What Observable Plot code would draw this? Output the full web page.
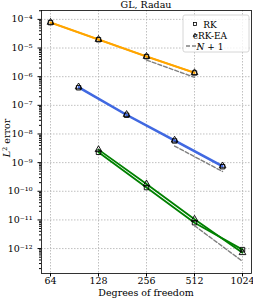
<!DOCTYPE html>
<html><head><meta charset="utf-8">
<script src="https://cdn.jsdelivr.net/npm/d3@7"></script>
<script src="https://cdn.jsdelivr.net/npm/@observablehq/plot@0.6"></script>
<style>body{margin:0;background:#fff}</style></head>
<body><div id="chart"></div>
<script>
// ---- data ----
const dofsA = [64, 128, 256, 512];
const rkA   = [7.7e-5, 1.95e-5, 5.0e-6, 1.35e-6];
const crkA  = [7.9e-5, 2.0e-5, 5.1e-6, 1.38e-6];
const dofsB = [96, 192, 384, 768];
const rkB   = [4.1e-7, 4.5e-8, 5.7e-9, 7.2e-10];
const crkB  = [4.4e-7, 4.8e-8, 6.1e-9, 7.7e-10];
const dofsC = [128, 256, 512, 1024];
const rkC   = [2.29e-9, 1.35e-10, 8.0e-12, 9.2e-13];
const crkC  = [2.84e-9, 1.8e-10, 1.06e-11, 7.2e-13];
const refDofsA = [256, 512], refA = [3.8e-6, 9.5e-7];
const refDofsB = [384, 768], refB = [3.8e-9, 4.9e-10];
const refDofsC = [512, 1024], refC = [6.3e-12, 3.6e-13];
const colors = ["orange", "royalblue", "green"];
const xTicks = [64, 128, 256, 512, 1024];
const yTicks = [1e-4, 1e-5, 1e-6, 1e-7, 1e-8, 1e-9, 1e-10, 1e-11, 1e-12];
const methods = ["RK", "cRK-EA"];
const titleText = "GL, Radau";
const xLabel = "Degrees of freedom";

// ---- build tables ----
const groups = [
  {dofs: dofsA, rk: rkA, crk: crkA, rd: refDofsA, ref: refA, color: colors[0]},
  {dofs: dofsB, rk: rkB, crk: crkB, rd: refDofsB, ref: refB, color: colors[1]},
  {dofs: dofsC, rk: rkC, crk: crkC, rd: refDofsC, ref: refC, color: colors[2]}
];
const rows = [], refRows = [];
groups.forEach((g, gi) => {
  g.dofs.forEach((d, i) => {
    rows.push({key: gi + "RK", method: "RK", dof: d, err: g.rk[i], color: g.color});
  });
  g.dofs.forEach((d, i) => {
    rows.push({key: gi + "cRK", method: "cRK-EA", dof: d, err: g.crk[i], color: g.color});
  });
  g.rd.forEach((d, i) => refRows.push({key: gi, dof: d, err: g.ref[i]}));
});
const yMinor = [];
for (let k = -13; k <= -4; k++) for (let m = 2; m <= 9; m++) {
  const v = m * Math.pow(10, k);
  if (v > Math.pow(10, -12.87) && v < Math.pow(10, -3.69)) yMinor.push(v);
}
const supMap = {"-": "\u207B", "0": "\u2070", "1": "\u00B9", "2": "\u00B2", "3": "\u00B3",
  "4": "\u2074", "5": "\u2075", "6": "\u2076", "7": "\u2077", "8": "\u2078", "9": "\u2079"};
const supFmt = d => "10" + String(Math.round(Math.log10(d))).split("").map(c => supMap[c]).join("");

const W = 253, H = 298, mL = 41, mR = 2, mT = 10, mB = 25;
const font = "DejaVu Serif";
const chart = Plot.plot({
  width: W, height: H, marginLeft: mL, marginRight: mR, marginTop: mT, marginBottom: mB,
  style: {fontFamily: font, fontSize: "9px", background: "white", color: "black"},
  x: {type: "log", base: 2, domain: [Math.pow(2, 5.8125), Math.pow(2, 10.1875)]},
  y: {type: "log", domain: [Math.pow(10, -12.87), Math.pow(10, -3.69)]},
  color: {type: "identity"},
  marks: [
    Plot.gridX(xTicks, {stroke: "#b0b0b0", strokeOpacity: 1, strokeDasharray: "1.5,1.5", strokeWidth: 0.8}),
    Plot.gridY(yTicks, {stroke: "#b0b0b0", strokeOpacity: 1, strokeDasharray: "1.5,1.5", strokeWidth: 0.8}),
    Plot.line(rows, {x: "dof", y: "err", z: "key", stroke: "color", strokeWidth: 1.8}),
    Plot.dot(rows.filter(d => d.method === "RK"), {x: "dof", y: "err", symbol: "square", stroke: "black", fill: "none", r: 2.5, strokeWidth: 0.9}),
    Plot.dot(rows.filter(d => d.method !== "RK"), {x: "dof", y: "err", symbol: "triangle", stroke: "black", fill: "none", r: 2.5, strokeWidth: 0.9}),
    Plot.line(refRows, {x: "dof", y: "err", z: "key", stroke: "#808080", strokeWidth: 1.4, strokeDasharray: "4,2"}),
    Plot.axisX({ticks: xTicks, tickFormat: d => String(d), tickSize: 3.5, tickPadding: 0.5, label: null, fontSize: 9.5}),
    Plot.axisY({ticks: yTicks, tickFormat: supFmt, tickSize: 3.5, label: null, fontSize: 9.5}),
    Plot.axisY({ticks: yMinor, tickSize: 2, tickFormat: () => "", label: null}),
    Plot.frame({stroke: "black", strokeWidth: 0.8})
  ]
});
document.getElementById("chart").appendChild(chart);

// ---- title, labels, legend ----
const svg = d3.select(chart);
const cx = mL + (W - mL - mR) / 2;
svg.append("text").attr("x", cx).attr("y", 8).attr("text-anchor", "middle")
  .style("font-family", font).style("font-size", "9.5px").text(titleText);
svg.append("text").attr("x", cx).attr("y", 295.5).attr("text-anchor", "middle")
  .style("font-family", font).style("font-size", "9.5px").text(xLabel);
const yl = svg.append("text").attr("transform", "translate(10,138) rotate(-90)")
  .attr("text-anchor", "middle").style("font-family", font).style("font-size", "9.5px");
yl.append("tspan").style("font-style", "italic").text("L");
yl.append("tspan").attr("dy", -3.5).style("font-size", "6.5px").text("2");
yl.append("tspan").attr("dy", 3.5).text(" error");

const lg = svg.append("g").style("font-family", font).style("font-size", "9px");
lg.append("rect").attr("x", 183).attr("y", 15).attr("width", 66).attr("height", 37)
  .attr("rx", 2).attr("fill", "white").attr("fill-opacity", 0.8).attr("stroke", "#cccccc").attr("stroke-width", 0.8);
lg.append("rect").attr("x", 193.5).attr("y", 22.5).attr("width", 3).attr("height", 3)
  .attr("fill", "none").attr("stroke", "black").attr("stroke-width", 0.8);
lg.append("path").attr("d", "M195,33.2L196.8,36.3L193.2,36.3Z")
  .attr("fill", "none").attr("stroke", "black").attr("stroke-width", 0.8);
lg.append("line").attr("x1", 186).attr("x2", 201).attr("y1", 46).attr("y2", 46)
  .attr("stroke", "#808080").attr("stroke-width", 1.4).attr("stroke-dasharray", "4,2");
lg.append("text").attr("x", 210).attr("y", 27.5).text(methods[0]);
lg.append("text").attr("x", 210).attr("y", 38.5).text(methods[1]);
const nt = lg.append("text").attr("x", 210).attr("y", 49.5);
nt.append("tspan").style("font-style", "italic").text("N");
nt.append("tspan").text(" + 1");
</script></body></html>
